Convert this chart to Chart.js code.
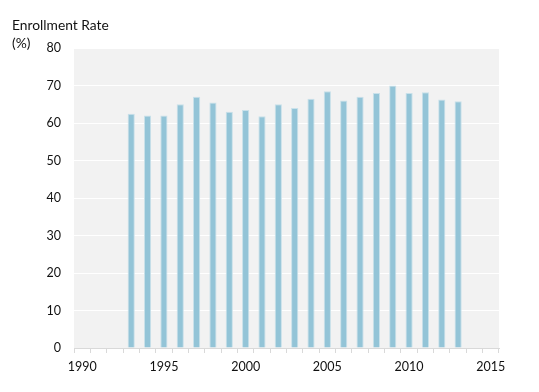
<!DOCTYPE html>
<html>
<head>
<meta charset="utf-8">
<script src="https://cdn.jsdelivr.net/npm/chart.js@4"></script>
<style>
html,body{margin:0;padding:0;background:#fff;}
#wrap{width:539px;height:392px;position:relative;}
</style>
</head>
<body>
<div id="wrap"><canvas id="c" width="539" height="392"></canvas></div>
<script>
const years = [1990,1991,1992,1993,1994,1995,1996,1997,1998,1999,2000,2001,2002,2003,2004,2005,2006,2007,2008,2009,2010,2011,2012,2013,2014,2015];
const enrollmentRate = [null,null,null,62.5,62.0,62.0,65.0,67.0,65.5,63.0,63.5,61.8,65.0,64.0,66.5,68.5,66.0,67.0,68.0,70.0,68.0,68.2,66.3,65.8,null,null];
const yTicks = [0,10,20,30,40,50,60,70,80];
const titleLines = ['Enrollment Rate','(%)'];

const bgPlugin = {
  id:'bg',
  beforeDraw(chart){
    const {ctx, chartArea:a} = chart;
    ctx.save();
    ctx.fillStyle = '#f2f2f2';
    ctx.fillRect(a.left, a.top, a.right-a.left, a.bottom-a.top);
    ctx.restore();
  },
  afterDraw(chart){
    const ctx = chart.ctx;
    ctx.save();
    ctx.fillStyle = '#111111';
    ctx.font = '13.8px Lato, "Open Sans", sans-serif';
    ctx.textBaseline = 'middle';
    ctx.textAlign = 'left';
    ctx.fillText(titleLines[0], 12, 26);
    ctx.fillText(titleLines[1], 12, 44);
    ctx.restore();
  }
};

new Chart(document.getElementById('c'), {
  type:'bar',
  data:{
    labels: years.map(String),
    datasets:[{
      data: enrollmentRate,
      backgroundColor:'#93c4d7',
      borderColor:'#c9e1ea',
      borderWidth:1,
      barPercentage:0.44,
      categoryPercentage:1.0
    }]
  },
  options:{
    responsive:false,
    animation:false,
    devicePixelRatio:1,
    layout:{padding:{left:0,right:40,top:48,bottom:12}},
    plugins:{legend:{display:false},tooltip:{enabled:false},title:{display:false}},
    scales:{
      x:{
        type:'category',
        offset:true,
        grid:{display:true,drawOnChartArea:false,offset:true,tickLength:5,color:'#d9d9d9'},
        border:{display:true,color:'#d9d9d9'},
        ticks:{
          autoSkip:false,maxRotation:0,minRotation:0,padding:6,
          color:'#111111',
          font:{family:'Lato, "Open Sans", sans-serif',size:12.5},
          callback:function(v,i){const y=years[i];return y%5===0?String(y):'';}
        }
      },
      y:{
        min:0,max:80,
        afterBuildTicks(axis){axis.ticks = yTicks.map(v=>({value:v}));},
        afterFit(axis){axis.width = 74;},
        grid:{color:'#ffffff',lineWidth:1,drawTicks:false},
        border:{display:false},
        ticks:{
          padding:13,
          color:'#111111',
          font:{family:'Lato, "Open Sans", sans-serif',size:12.5}
        }
      }
    }
  },
  plugins:[bgPlugin]
});
</script>
</body>
</html>
